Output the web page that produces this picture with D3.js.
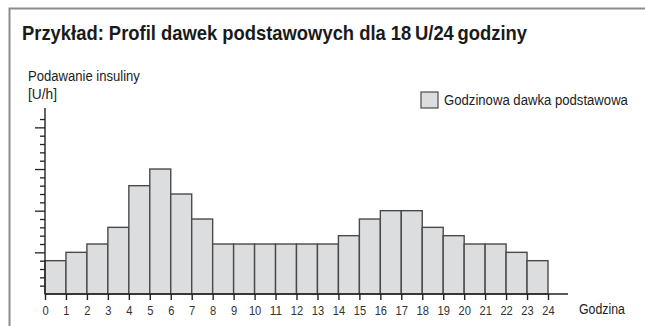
<!DOCTYPE html>
<html>
<head>
<meta charset="utf-8">
<script src="https://cdn.jsdelivr.net/npm/d3@7"></script>
<style>
  html, body { margin: 0; padding: 0; background: #fff; }
  svg { display: block; font-family: "Liberation Sans", Arial, sans-serif; }
</style>
</head>
<body>
<svg id="chart" width="645" height="326"></svg>
<script>
// Hourly basal rates in U/h, hour 0..23 (sum = 18 U per 24 h)
const hours = d3.range(0, 24);
const basalRates = [0.4, 0.5, 0.6, 0.8, 1.3, 1.5, 1.2, 0.9, 0.6, 0.6, 0.6, 0.6,
                    0.6, 0.6, 0.7, 0.9, 1.0, 1.0, 0.8, 0.7, 0.6, 0.6, 0.5, 0.4];
const xTickValues = d3.range(0, 25);
const yTickValues = d3.range(1, 22).map(i => i / 10);

const titleText = "Przykład: Profil dawek podstawowych dla 18\u2009U/24\u2009godziny";
const yLabelLines = ["Podawanie insuliny", "[U/h]"];
const xLabelText = "Godzina";
const legendText = "Godzinowa dawka podstawowa";

const svg = d3.select("#chart");

// condensed look: squeeze glyphs of a text to a given width
function squeeze(sel, w) {
  sel.attr("textLength", w).attr("lengthAdjust", "spacingAndGlyphs");
}

// condensed look via horizontal scaling of a text placed at (px, py)
function narrowText(parent, str, px, py, size, w) {
  const t = parent.append("text")
    .attr("font-size", size).attr("fill", "#222")
    .text(str);
  const natural = t.node().getComputedTextLength();
  t.attr("transform", `translate(${px},${py}) scale(${w / natural},1)`);
  return t;
}

// outer frame (top and left edges visible)
svg.append("path")
  .attr("d", "M9.5,330 V8.5 H650")
  .attr("fill", "none")
  .attr("stroke", "#8c8c8c")
  .attr("stroke-width", 2);

svg.append("text")
  .attr("x", 22).attr("y", 40)
  .attr("font-size", 21).attr("font-weight", "bold")
  .attr("fill", "#1a1a1a")
  .text(titleText)
  .call(squeeze, 505);

const x = d3.scaleLinear().domain([0, 24]).range([45, 548]);
const y = d3.scaleLinear().domain([0, 2.2]).range([294, 110.7]);

// bars
svg.append("g").selectAll("rect")
  .data(hours)
  .join("rect")
  .attr("x", h => x(h))
  .attr("width", h => x(h + 1) - x(h))
  .attr("y", h => y(basalRates[h]))
  .attr("height", h => y(0) - y(basalRates[h]))
  .attr("fill", "#dcdddf")
  .attr("stroke", "#4a4a4a")
  .attr("stroke-width", 1.4);

// y axis
const yAxis = svg.append("g")
  .attr("transform", `translate(${x(0)},0)`)
  .call(d3.axisLeft(y).tickValues(yTickValues).tickSize(5).tickSizeOuter(0).tickFormat(""));
yAxis.select(".domain").remove();
yAxis.selectAll(".tick line")
  .attr("stroke", "#222").attr("stroke-width", 1.3)
  .attr("x2", d => (Math.round(d * 10) % 5 === 0) ? -10 : -5);
svg.append("line")
  .attr("x1", x(0)).attr("x2", x(0))
  .attr("y1", y(0)).attr("y2", 108)
  .attr("stroke", "#222").attr("stroke-width", 1.4);

// x axis
const xAxis = svg.append("g")
  .attr("transform", `translate(0,${y(0)})`)
  .call(d3.axisBottom(x).tickValues(xTickValues).tickSize(6).tickPadding(5).tickSizeOuter(0));
xAxis.select(".domain").remove();
xAxis.selectAll(".tick line").attr("stroke", "#222").attr("stroke-width", 1.4);
xAxis.selectAll(".tick text")
  .attr("font-family", null)
  .attr("font-size", 13.5)
  .attr("fill", "#333")
  .each(function (d) { d3.select(this).call(squeeze, String(d).length * 6.2); });
svg.append("line")
  .attr("x1", x(0)).attr("x2", 568)
  .attr("y1", y(0)).attr("y2", y(0))
  .attr("stroke", "#222").attr("stroke-width", 1.4);

// axis titles
const yLabelWidths = [112, 29];
yLabelLines.forEach((line, i) => narrowText(svg, line, 28, 81 + i * 18, 15, yLabelWidths[i]));

narrowText(svg, xLabelText, 579, 314, 15.5, 46);

// legend
svg.append("rect")
  .attr("x", 421).attr("y", 92)
  .attr("width", 17).attr("height", 16)
  .attr("fill", "#dcdddf").attr("stroke", "#4a4a4a").attr("stroke-width", 1.2);
narrowText(svg, legendText, 444, 105, 14.5, 184);
</script>
</body>
</html>
